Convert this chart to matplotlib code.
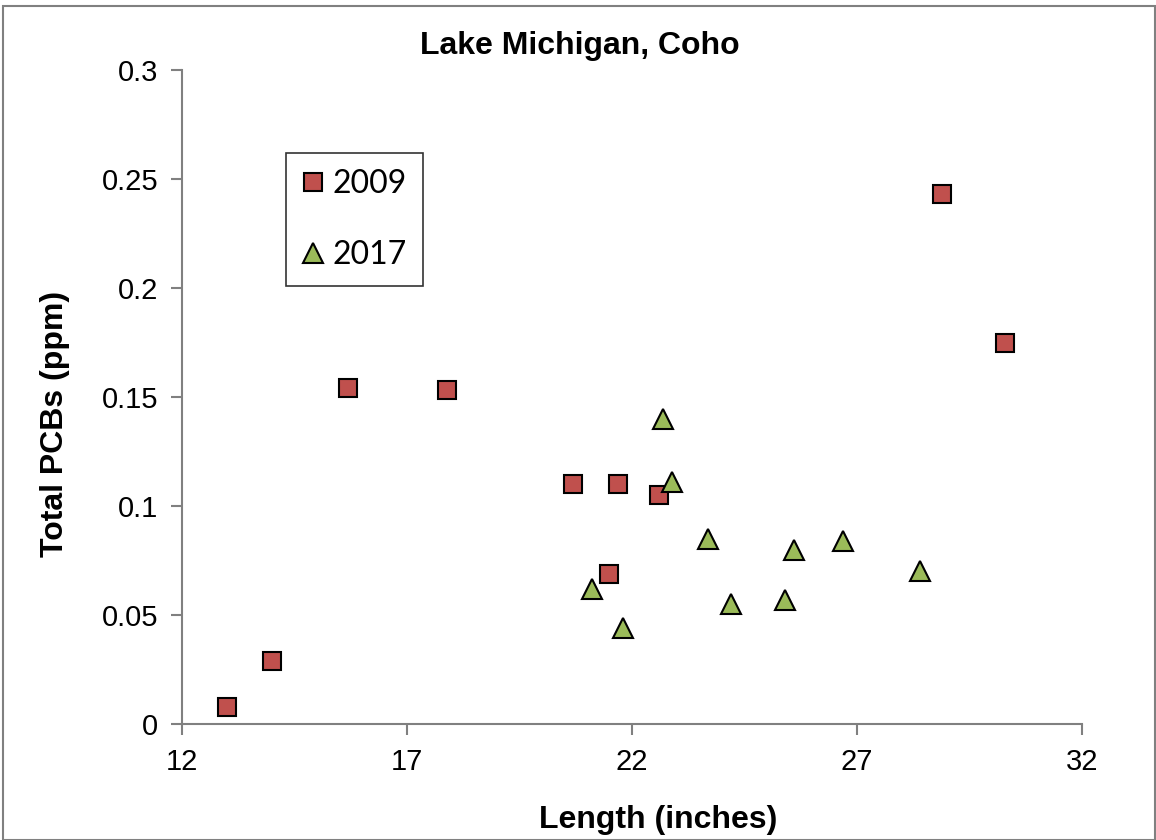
import matplotlib
matplotlib.use("Agg")
import matplotlib.pyplot as plt
from matplotlib.patches import Rectangle

# 2009 samples (length in inches, total PCBs in ppm)
length_2009 = [13.0, 14.0, 15.7, 17.9, 20.7, 21.5, 21.7, 22.6, 28.9, 30.3]
pcb_2009 = [0.008, 0.029, 0.154, 0.153, 0.110, 0.069, 0.110, 0.105, 0.243, 0.175]

# 2017 samples
length_2017 = [21.1, 21.8, 22.7, 22.9, 23.7, 24.2, 25.4, 25.6, 26.7, 28.4]
pcb_2017 = [0.062, 0.044, 0.140, 0.111, 0.085, 0.055, 0.057, 0.080, 0.084, 0.070]

x_ticks = [12, 17, 22, 27, 32]
y_ticks = [0, 0.05, 0.1, 0.15, 0.2, 0.25, 0.3]
y_tick_labels = ["0", "0.05", "0.1", "0.15", "0.2", "0.25", "0.3"]

plt.rcParams["font.family"] = ["Liberation Sans", "DejaVu Sans"]

fig = plt.figure(figsize=(11.56, 8.4), dpi=100)
ax = fig.add_axes([182 / 1156, 1 - 724 / 840, 900 / 1156, 654 / 840])

ax.plot(length_2009, pcb_2009, linestyle="none", marker="s", markersize=13,
        markerfacecolor="#C0504D", markeredgecolor="black", markeredgewidth=1.5,
        label="2009")
ax.plot(length_2017, pcb_2017, linestyle="none", marker="^", markersize=14,
        markerfacecolor="#9BBB59", markeredgecolor="black", markeredgewidth=1.5,
        label="2017")

ax.set_xlim(12, 32)
ax.set_ylim(0, 0.3)
ax.set_xticks(x_ticks)
ax.set_yticks(y_ticks)
ax.set_yticklabels(y_tick_labels)
ax.tick_params(labelsize=21, length=8, width=1.5, color="#808080")
ax.tick_params(axis="y", pad=9)
ax.tick_params(axis="x", pad=9)

for side in ["top", "right"]:
    ax.spines[side].set_visible(False)
for side in ["left", "bottom"]:
    ax.spines[side].set_color("#808080")
    ax.spines[side].set_linewidth(1.5)

fig.text(580 / 1156, 1 - 46 / 840, "Lake Michigan, Coho", ha="center", va="center",
         fontsize=23, fontweight="bold")
fig.text(658 / 1156, 1 - 820 / 840, "Length (inches)", ha="center", va="center",
         fontsize=23, fontweight="bold")
fig.text(55 / 1156, 1 - 424 / 840, "Total PCBs (ppm)", ha="center", va="center",
         rotation=90, fontsize=23, fontweight="bold")

leg = ax.legend(loc="upper left", bbox_to_anchor=((286 - 182) / 900, (724 - 153) / 654),
                frameon=True, fancybox=False, borderpad=0.5, borderaxespad=0,
                labelspacing=1.3, handletextpad=0.25, handlelength=0.7,
                prop={"family": "Lato", "size": 23})
leg.get_frame().set_edgecolor("black")
leg.get_frame().set_linewidth(1.2)

# outer chart border
fig.patches.append(Rectangle((3 / 1156, 0), 1 - 4 / 1156, 1 - 6 / 840,
                             transform=fig.transFigure, fill=False,
                             edgecolor="#808080", linewidth=1.5))

fig.savefig("out.png", dpi=100)
